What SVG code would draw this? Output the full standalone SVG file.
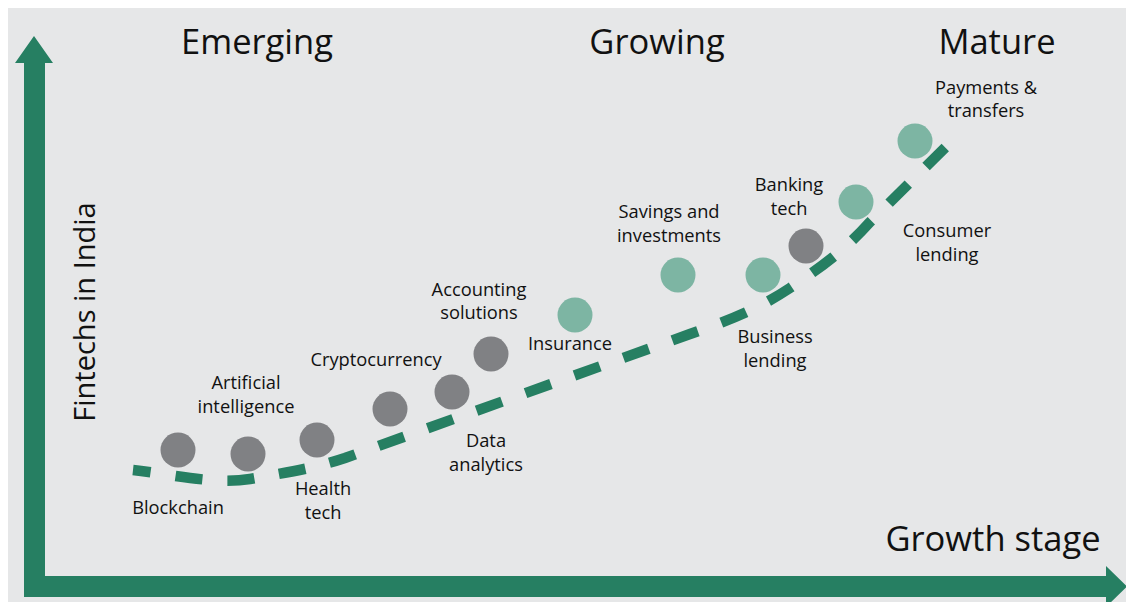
<svg xmlns="http://www.w3.org/2000/svg" width="1126" height="602" viewBox="0 0 1126 602">
<style>
.ax{fill:#267f62}
.dash{fill:none;stroke:#267f62;stroke-width:10.5;stroke-dasharray:27 25;stroke-dashoffset:9}
.g{fill:#808184}
.l{fill:#7db5a3}
text{font-family:"Open Sans","Noto Sans","Liberation Sans",sans-serif;fill:#111;text-anchor:middle}
.lb{font-size:18.3px}
.hd{font-size:34.5px}
</style>
<rect x="8" y="8" width="1118" height="594" fill="#e6e7e8"/>
<g id="axes">
<polygon class="ax" points="24,597 24,63 15,63 34,36 53,63 45,63 45,576 1106,576 1106,566 1127,586.5 1106,607 1106,597"/>
</g>
<g id="connectors">
<path class="dash" d="M133,470 C170,474 215,485 250,479 C290,472 315,468 345,458 L690,334 C730,320 760,308 790,288 C820,268 845,250 870,222 L960,133"/>
</g>
<g id="headers">
<text class="hd" x="257" y="54">Emerging</text>
<text class="hd" x="657" y="54">Growing</text>
<text class="hd" x="997" y="54">Mature</text>
<text class="hd" x="993" y="551">Growth stage</text>
<text class="hd" transform="translate(95,312) rotate(-90)" x="0" y="0" style="font-size:29px">Fintechs in India</text>
</g>
<g id="n-blockchain"><circle class="g" cx="178" cy="450" r="17.5"/><text class="lb" x="178" y="514">Blockchain</text></g>
<g id="n-ai"><circle class="g" cx="248" cy="454" r="17.5"/><text class="lb" x="246" y="389">Artificial</text><text class="lb" x="246" y="413">intelligence</text></g>
<g id="n-health"><circle class="g" cx="317" cy="440" r="17.5"/><text class="lb" x="323" y="495">Health</text><text class="lb" x="323" y="519">tech</text></g>
<g id="n-crypto"><circle class="g" cx="390" cy="409" r="17.5"/><text class="lb" x="376" y="366">Cryptocurrency</text></g>
<g id="n-data"><circle class="g" cx="452" cy="392" r="17.5"/><text class="lb" x="486" y="447">Data</text><text class="lb" x="486" y="471">analytics</text></g>
<g id="n-accounting"><circle class="g" cx="491" cy="354" r="17.5"/><text class="lb" x="479" y="296">Accounting</text><text class="lb" x="479" y="319">solutions</text></g>
<g id="n-insurance"><circle class="l" cx="575" cy="315" r="17.5"/><text class="lb" x="570" y="350">Insurance</text></g>
<g id="n-savings"><circle class="l" cx="678" cy="275" r="17.5"/><text class="lb" x="669" y="218">Savings and</text><text class="lb" x="669" y="242">investments</text></g>
<g id="n-business"><circle class="l" cx="763" cy="275" r="17.5"/><text class="lb" x="775" y="343">Business</text><text class="lb" x="775" y="367">lending</text></g>
<g id="n-banking"><circle class="g" cx="806" cy="246" r="17.5"/><text class="lb" x="789" y="191">Banking</text><text class="lb" x="789" y="215">tech</text></g>
<g id="n-consumer"><circle class="l" cx="856" cy="202" r="17.5"/><text class="lb" x="947" y="237">Consumer</text><text class="lb" x="947" y="261">lending</text></g>
<g id="n-payments"><circle class="l" cx="915" cy="141" r="17.5"/><text class="lb" x="986" y="94">Payments &amp;</text><text class="lb" x="986" y="117">transfers</text></g>
</svg>
